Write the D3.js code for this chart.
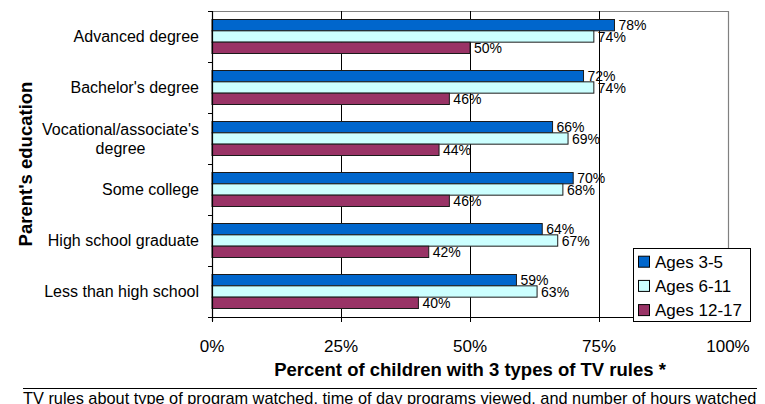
<!DOCTYPE html>
<html>
<head>
<meta charset="utf-8">
<script src="https://cdn.jsdelivr.net/npm/d3@7"></script>
<style>
  html, body { margin: 0; padding: 0; background: #fff; }
  svg { display: block; font-family: "Liberation Sans", Arial, sans-serif; }
</style>
</head>
<body>
<svg id="chart" width="765" height="404"></svg>
<script>
const categories = ["Advanced degree", "Bachelor's degree", "Vocational/associate's\ndegree", "Some college", "High school graduate", "Less than high school"];
const seriesNames = ["Ages 3-5", "Ages 6-11", "Ages 12-17"];
const ages3to5 = [78, 72, 66, 70, 64, 59];
const ages6to11 = [74, 74, 69, 68, 67, 63];
const ages12to17 = [50, 46, 44, 46, 42, 40];
const xTicks = [0, 25, 50, 75, 100];
const xTitle = "Percent of children with 3 types of TV rules *";
const yTitle = "Parent's education";
const footnote = "TV rules about type of program watched, time of day programs viewed, and number of hours watched";

const seriesValues = [ages3to5, ages6to11, ages12to17];
const colors = ["#0066CC", "#CCFFFF", "#993366"];

const svg = d3.select("#chart");
const plotL = 212, plotR = 728, plotT = 11, plotB = 317;

const x = d3.scaleLinear().domain([0, 100]).range([plotL, plotR]);
const y = d3.scaleBand().domain(categories).range([plotT, plotB]).paddingInner(1/3).paddingOuter(1/6);
const ySub = d3.scaleBand().domain(seriesNames).range([0, y.bandwidth()]);

// plot border (gray) top & right
svg.append("line").attr("x1", plotL).attr("x2", plotR).attr("y1", plotT + 0.5).attr("y2", plotT + 0.5)
  .attr("stroke", "#808080").attr("stroke-width", 1.2);
svg.append("line").attr("x1", plotR + 0.5).attr("x2", plotR + 0.5).attr("y1", plotT).attr("y2", plotB)
  .attr("stroke", "#808080").attr("stroke-width", 1.2);

// gridlines
svg.append("g").selectAll("line").data(xTicks.filter(d => d > 0 && d < 100)).join("line")
  .attr("x1", d => Math.round(x(d)) + 0.5).attr("x2", d => Math.round(x(d)) + 0.5)
  .attr("y1", plotT).attr("y2", plotB)
  .attr("stroke", "#000").attr("stroke-width", 1);

// bars
const groups = svg.append("g").selectAll("g").data(categories).join("g")
  .attr("transform", c => `translate(0,${y(c)})`);

groups.each(function(c, ci) {
  const g = d3.select(this);
  seriesNames.forEach((s, si) => {
    const v = seriesValues[si][ci];
    g.append("rect")
      .attr("x", x(0)).attr("y", ySub(s))
      .attr("width", x(v) - x(0)).attr("height", ySub.bandwidth())
      .attr("fill", colors[si]).attr("stroke", "#1a1a1a").attr("stroke-width", 1);
    g.append("text")
      .attr("x", x(v) + 4).attr("y", ySub(s) + ySub.bandwidth() / 2)
      .attr("dy", "0.36em").attr("font-size", 14).attr("fill", "#000")
      .text(v + "%");
  });
});

// axes lines
svg.append("line").attr("x1", plotL + 0.5).attr("x2", plotL + 0.5).attr("y1", plotT).attr("y2", plotB + 4)
  .attr("stroke", "#000").attr("stroke-width", 1.2);
svg.append("line").attr("x1", plotL - 4).attr("x2", plotR).attr("y1", plotB + 0.5).attr("y2", plotB + 0.5)
  .attr("stroke", "#000").attr("stroke-width", 1.2);

// y ticks at band boundaries
const boundaries = d3.range(categories.length + 1).map(i => y.range()[0] + i * y.step());
svg.append("g").selectAll("line").data(boundaries).join("line")
  .attr("x1", plotL - 4).attr("x2", plotL).attr("y1", d => Math.round(d) + 0.5).attr("y2", d => Math.round(d) + 0.5)
  .attr("stroke", "#000").attr("stroke-width", 1);

// x ticks
svg.append("g").selectAll("line").data(xTicks).join("line")
  .attr("x1", d => Math.round(x(d)) + 0.5).attr("x2", d => Math.round(x(d)) + 0.5)
  .attr("y1", plotB).attr("y2", plotB + 5)
  .attr("stroke", "#000").attr("stroke-width", 1);

svg.append("g").selectAll("text").data(xTicks).join("text")
  .attr("x", d => x(d)).attr("y", 352).attr("text-anchor", "middle")
  .attr("font-size", 17).text(d => d + "%");

// category labels
const labelRight = 199;
categories.forEach(c => {
  const lines = c.split("\n");
  const cy = y(c) + y.bandwidth() / 2;
  const t = svg.append("text").attr("font-size", 16).attr("fill", "#000");
  const lh = 18.5;
  lines.forEach((ln, i) => {
    t.append("tspan").attr("y", cy + (i - (lines.length - 1) / 2) * lh).attr("dy", "0.36em").text(ln);
  });
  let maxW = 0;
  t.selectAll("tspan").each(function() { maxW = Math.max(maxW, this.getComputedTextLength()); });
  t.attr("text-anchor", "middle");
  t.selectAll("tspan").attr("x", labelRight - maxW / 2);
});

// axis titles
svg.append("text").attr("x", (plotL + plotR) / 2).attr("y", 376).attr("text-anchor", "middle")
  .attr("font-size", 18.5).attr("font-weight", "bold").text(xTitle);
svg.append("text").attr("transform", `translate(31.5,${(plotT + plotB) / 2}) rotate(-90)`)
  .attr("text-anchor", "middle").attr("font-size", 18.5).attr("font-weight", "bold").text(yTitle);

// legend
const lg = svg.append("g").attr("transform", "translate(633,248)");
lg.append("rect").attr("x", 0.5).attr("y", 0.5).attr("width", 117).attr("height", 73)
  .attr("fill", "#fff").attr("stroke", "#000").attr("stroke-width", 1);
seriesNames.forEach((s, i) => {
  const cy = 13.7 + i * 24.2;
  lg.append("rect").attr("x", 5.5).attr("y", cy - 5.5).attr("width", 11).attr("height", 11)
    .attr("fill", colors[i]).attr("stroke", "#000").attr("stroke-width", 1);
  lg.append("text").attr("x", 22).attr("y", cy).attr("dy", "0.36em").attr("font-size", 17).text(s);
});

// footnote
svg.append("line").attr("x1", 23).attr("x2", 757).attr("y1", 388.5).attr("y2", 388.5)
  .attr("stroke", "#000").attr("stroke-width", 1.2);
const fn = svg.append("text").attr("x", 23).attr("y", 403.5).attr("font-size", 15).text(footnote);
const fw = fn.node().getComputedTextLength();
fn.attr("font-size", 15 * 734 / fw);
</script>
</body>
</html>
